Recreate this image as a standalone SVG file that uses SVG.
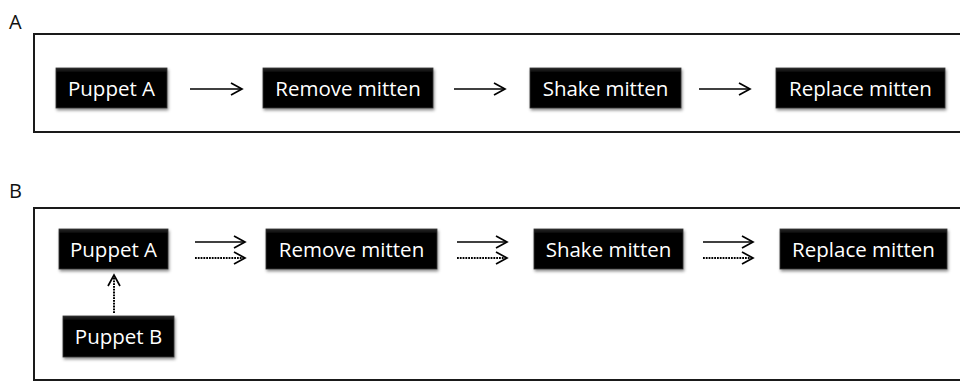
<svg xmlns="http://www.w3.org/2000/svg" width="960" height="381" viewBox="0 0 960 381">
<style>
.frame{fill:none;stroke:#1a1a1a;stroke-width:2}
.box{fill:url(#g);stroke:#333;stroke-width:0.8;filter:url(#sh)}
.lbl{font-family:"Open Sans","Noto Sans",sans-serif;font-size:20.5px;fill:#fff;text-anchor:middle}
.pl{font-family:"Open Sans","Noto Sans",sans-serif;font-size:20px;fill:#111}
.sol{stroke:#000;stroke-width:1.7;fill:none;marker-end:url(#ah)}
.dot{stroke:#000;stroke-width:2;fill:none;stroke-dasharray:1.8 1;marker-end:url(#ah)}
</style>
<defs>
<linearGradient id="g" x1="0" y1="0" x2="0" y2="1">
<stop offset="0" stop-color="#2a2a2a"/>
<stop offset="0.12" stop-color="#000"/>
<stop offset="1" stop-color="#000"/>
</linearGradient>
<filter id="sh" x="-10%" y="-20%" width="120%" height="150%">
<feDropShadow dx="1" dy="2" stdDeviation="1.5" flood-color="#000" flood-opacity="0.45"/>
</filter>
<marker id="ah" markerWidth="16" markerHeight="16" refX="13" refY="8" orient="auto" markerUnits="userSpaceOnUse">
<path d="M2,2 L13,8 L2,14" fill="none" stroke="#000" stroke-width="1.7"/>
</marker>
</defs>
<rect width="960" height="381" fill="#fff"/>
<text class="pl" x="9" y="29">A</text>
<text class="pl" x="9" y="198">B</text>
<rect class="frame" x="34" y="34" width="940" height="98"/>
<rect class="frame" x="34" y="208" width="940" height="172"/>
<g id="a-puppetA"><rect class="box" x="56" y="68" width="111" height="40"/><text class="lbl" x="111.5" y="96">Puppet A</text></g>
<g id="a-remove"><rect class="box" x="263" y="68" width="170" height="40"/><text class="lbl" x="348" y="96">Remove mitten</text></g>
<g id="a-shake"><rect class="box" x="530" y="68" width="151" height="40"/><text class="lbl" x="605.5" y="96">Shake mitten</text></g>
<g id="a-replace"><rect class="box" x="776" y="68" width="169" height="40"/><text class="lbl" x="860.5" y="96">Replace mitten</text></g>
<g id="b-puppetA"><rect class="box" x="59" y="229" width="109" height="40"/><text class="lbl" x="113.5" y="257">Puppet A</text></g>
<g id="b-puppetB"><rect class="box" x="63" y="316" width="111" height="41"/><text class="lbl" x="118.5" y="344">Puppet B</text></g>
<g id="b-remove"><rect class="box" x="266" y="229" width="171" height="40"/><text class="lbl" x="351.5" y="257">Remove mitten</text></g>
<g id="b-shake"><rect class="box" x="534" y="229" width="149" height="40"/><text class="lbl" x="608.5" y="257">Shake mitten</text></g>
<g id="b-replace"><rect class="box" x="780" y="229" width="167" height="40"/><text class="lbl" x="863.5" y="257">Replace mitten</text></g>
<g id="connectors">
<line class="sol" x1="190" y1="89" x2="242" y2="89"/>
<line class="sol" x1="454" y1="89" x2="505" y2="89"/>
<line class="sol" x1="699" y1="89" x2="750" y2="89"/>
<line class="sol" x1="195" y1="242" x2="245" y2="242"/>
<line class="dot" x1="195" y1="258" x2="245" y2="258"/>
<line class="sol" x1="457" y1="242" x2="507" y2="242"/>
<line class="dot" x1="457" y1="258" x2="507" y2="258"/>
<line class="sol" x1="703" y1="242" x2="753" y2="242"/>
<line class="dot" x1="703" y1="258" x2="753" y2="258"/>
<line class="dot" x1="114" y1="313" x2="114" y2="275"/>
</g>
</svg>
